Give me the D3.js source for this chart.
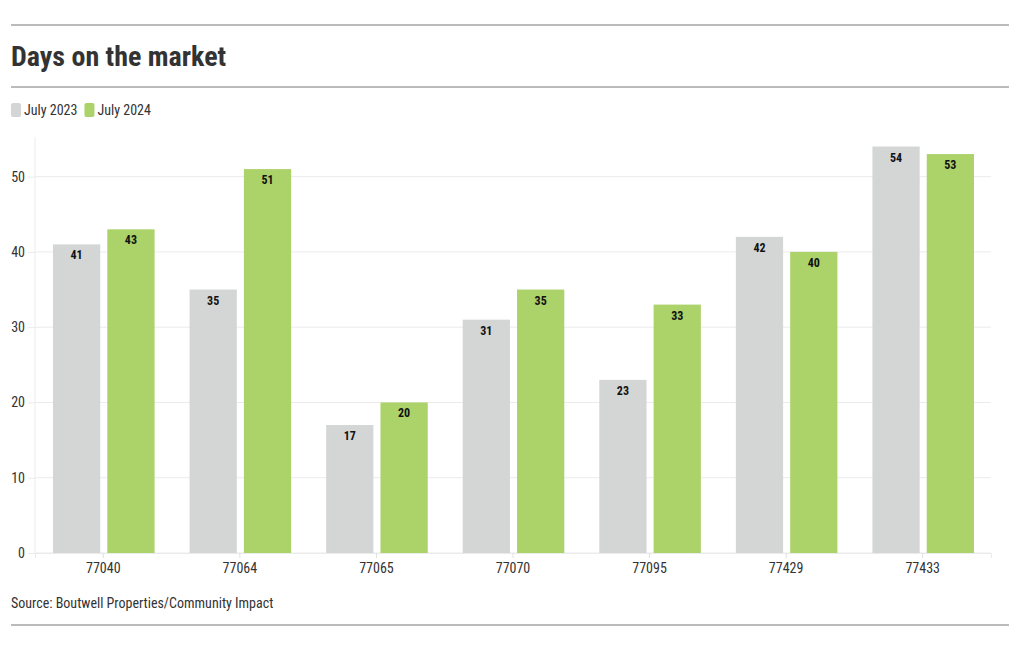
<!DOCTYPE html>
<html><head><meta charset="utf-8">
<script src="https://cdn.jsdelivr.net/npm/d3@7"></script>
<style>
body{margin:0;background:#fff;}
svg text{font-family:"Roboto Condensed",Roboto,"Liberation Sans Narrow",sans-serif;}
</style></head>
<body><svg id="c" width="1020" height="650"></svg>
<script>
const categories = ["77040","77064","77065","77070","77095","77429","77433"];
const seriesNames = ["July 2023","July 2024"];
const values2023 = [41,35,17,31,23,42,54];
const values2024 = [43,51,20,35,33,40,53];
const yTicks = [0,10,20,30,40,50];
const colors = ["#d4d6d5","#acd26a"];
const title = "Days on the market";
const source = "Source: Boutwell Properties/Community Impact";

const svg = d3.select("#c");

// rules
[25,87,625].forEach(y=>svg.append("line").attr("x1",11).attr("x2",1009).attr("y1",y).attr("y2",y).attr("stroke","#777").attr("stroke-width",1));

svg.append("text").attr("x",11).attr("y",66).attr("font-size",28).attr("font-weight",700).attr("fill","#333").text(title);

// legend
const leg = svg.append("g");
let lx = 11;
seriesNames.forEach((n,i)=>{
  leg.append("rect").attr("x",lx).attr("y",103).attr("width",10).attr("height",14).attr("rx",2).attr("fill",colors[i]);
  const tx = leg.append("text").attr("x",lx+13).attr("y",115).attr("font-size",14).attr("fill","#333").text(n);
  lx = lx + 13 + tx.node().getComputedTextLength() + 7;
});

const m = {l:35, r:991, t:139, b:553};
const x0 = d3.scaleBand().domain(categories).range([m.l,m.r]).paddingInner(0).paddingOuter(0);
const x1 = d3.scaleBand().domain(seriesNames).range([18, x0.bandwidth()-17]).paddingInner(0.13);
const y = d3.scaleLinear().domain([0,55]).range([m.b,m.t]);

// grid
svg.append("g").selectAll("line").data(yTicks).join("line")
  .attr("x1",m.l).attr("x2",m.r).attr("y1",d=>y(d)).attr("y2",d=>y(d))
  .attr("stroke","#ebebeb").attr("stroke-width",1);
svg.append("line").attr("x1",m.l).attr("x2",m.l).attr("y1",m.t-2).attr("y2",m.b).attr("stroke","#ebebeb");

// y axis
const ya = svg.append("g").attr("transform",`translate(${m.l},0)`).call(d3.axisLeft(y).tickValues(yTicks).tickSize(7).tickPadding(3));
ya.select(".domain").remove();
ya.selectAll("line").attr("stroke","#ebebeb");
ya.selectAll("text").attr("font-size",14).attr("fill","#333").attr("font-family",null);

// x axis
const xa = svg.append("g").attr("transform",`translate(0,${m.b})`).call(d3.axisBottom(x0).tickSize(5).tickPadding(5));
xa.select(".domain").attr("stroke","#ebebeb");
xa.selectAll("line").attr("stroke","#e0e0e0");
xa.selectAll("text").attr("font-size",14).attr("fill","#333").attr("font-family",null);

// bars
const data = categories.map((c,i)=>({c, vals:[values2023[i],values2024[i]]}));
const g = svg.append("g").selectAll("g").data(data).join("g").attr("transform",d=>`translate(${x0(d.c)},0)`);
g.selectAll("rect").data(d=>d.vals.map((v,i)=>({v,s:seriesNames[i],i}))).join("rect")
  .attr("x",d=>x1(d.s)).attr("width",x1.bandwidth())
  .attr("y",d=>y(d.v)).attr("height",d=>y(0)-y(d.v)).attr("fill",d=>colors[d.i]);
g.selectAll("text.v").data(d=>d.vals.map((v,i)=>({v,s:seriesNames[i],i}))).join("text").attr("class","v")
  .attr("x",d=>x1(d.s)+x1.bandwidth()/2).attr("y",d=>y(d.v)+15).attr("text-anchor","middle")
  .attr("font-size",12).attr("font-weight",700).attr("fill","#111").text(d=>d.v);

svg.append("text").attr("x",11).attr("y",608).attr("font-size",14).attr("fill","#333").text(source);
</script></body></html>
